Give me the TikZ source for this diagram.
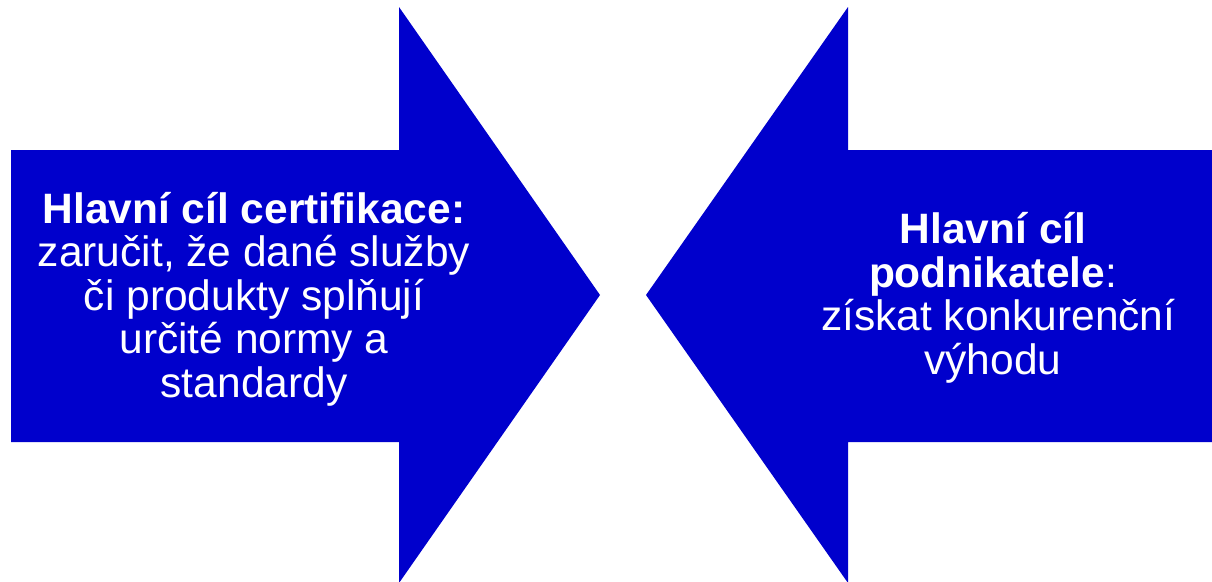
\documentclass[tikz,border=0pt]{standalone}
\usepackage{fontspec}
\setmainfont{Liberation Sans}
\usepackage{tikz}
\usetikzlibrary{positioning}
\definecolor{arrowblue}{RGB}{0,0,204}
\tikzstyle{bigarrow} = [fill=arrowblue, draw=none]
\tikzstyle{goal} = [text=white, align=center, inner sep=0pt, font=\fontsize{42.5}{43.5}\selectfont]

\begin{document}
\begin{tikzpicture}[x=1pt, y=-1pt]
    \useasboundingbox (0,0) rectangle (1212,581);
    % left arrow
    \fill[bigarrow] (11,150) -- (399,150) -- (399,7) -- (600,295) -- (399,583) -- (399,442) -- (11,442) -- cycle;
    % right arrow
    \fill[bigarrow] (1212,150) -- (848,150) -- (848,7) -- (646,295) -- (848,583) -- (848,442) -- (1212,442) -- cycle;

    \node[goal] (certgoal) at (254,299) {\textbf{Hlavní cíl certifikace:}\\zaručit, že dané služby\\či produkty splňují\\určité normy a\\standardy};
    \node[goal] (bizgoal) at (993,298) {\textbf{Hlavní cíl}\\\textbf{podnikatele}:\\\hspace*{.25em}získat konkurenční\\výhodu};
\end{tikzpicture}
\end{document}
